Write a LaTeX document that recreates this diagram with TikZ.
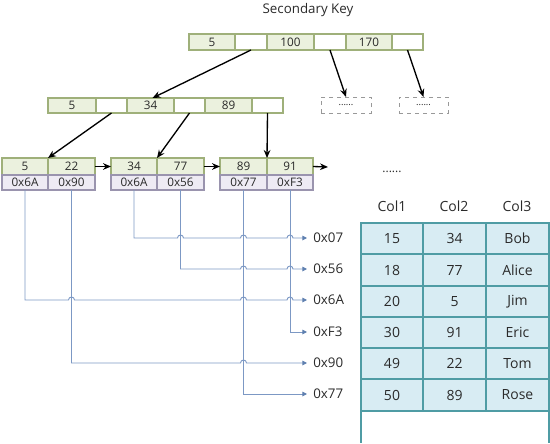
\documentclass[tikz,border=0pt]{standalone}
\usepackage{fontspec}
\setmainfont{Open Sans}
\usetikzlibrary{arrows.meta,calc}
\definecolor{gfill}{HTML}{EBF1DE}
\definecolor{gdraw}{HTML}{9FB07A}
\definecolor{pfill}{HTML}{EEEBF4}
\definecolor{pdraw}{HTML}{9A94AE}
\definecolor{tfill}{HTML}{D8ECF3}
\definecolor{tdraw}{HTML}{4F9CA4}
\definecolor{ptrc}{HTML}{7C98C4}
\definecolor{ptrtip}{HTML}{5E7FAF}
\definecolor{txt}{HTML}{2A2A2A}
\newcommand\mkcell[7]{%
  \node[#2, minimum width={(#4-#3)*0.75pt}, minimum height={(#6-#5)*0.75pt}] (#1) at ({(#3+#4)/2},{(#5+#6)/2}) {#7};}
\begin{document}
\begin{tikzpicture}[x=0.75pt,y=-0.75pt,
  every node/.style={text=txt},
  base/.style={rectangle, inner sep=0pt, outer sep=0pt, line width=0.9pt, font=\fontsize{8.8}{10}\selectfont},
  gcell/.style={base, draw=gdraw, fill=gfill},
  wcell/.style={base, draw=gdraw, fill=white},
  pcell/.style={base, draw=pdraw, fill=pfill},
  dbox/.style={base, draw=gray!80, dashed, line width=0.7pt, fill=white, font=\fontsize{7}{8}\selectfont},
  tcell/.style={rectangle, inner sep=0pt, outer sep=0pt, line width=0.9pt, draw=tdraw, fill=tfill, font=\fontsize{10.5}{12}\selectfont},
  hdr/.style={font=\fontsize{10.5}{12}\selectfont},
  plabel/.style={anchor=west, inner xsep=4.5pt, inner ysep=1pt, font=\fontsize{10}{12}\selectfont},
  blk/.style={draw=black, line width=1pt, -{Stealth[length=6pt,width=5pt]}},
  ptr/.style={draw=ptrc, line width=0.7pt, -{Triangle[length=3.5pt,width=3.5pt,color=ptrtip]}},
]
\useasboundingbox (0,0) rectangle (550,443);

% title
\node[font=\fontsize{10}{12}\selectfont] (title) at (308,10) {Secondary Key};

% top node
\mkcell{t1}{gcell}{189}{235}{34}{50}{5}
\mkcell{t2}{wcell}{235}{267}{34}{50}{}
\mkcell{t3}{gcell}{267}{314}{34}{50}{100}
\mkcell{t4}{wcell}{314}{346}{34}{50}{}
\mkcell{t5}{gcell}{346}{392}{34}{50}{170}
\mkcell{t6}{wcell}{392}{423}{34}{50}{}

% second level
\mkcell{s1}{gcell}{48}{96}{98}{113}{5}
\mkcell{s2}{wcell}{96}{127}{98}{113}{}
\mkcell{s3}{gcell}{127}{174}{98}{113}{34}
\mkcell{s4}{wcell}{174}{205}{98}{113}{}
\mkcell{s5}{gcell}{205}{252}{98}{113}{89}
\mkcell{s6}{wcell}{252}{283}{98}{113}{}
\mkcell{d1}{dbox}{321}{371}{97}{113}{......}
\mkcell{d2}{dbox}{399}{448}{97}{113}{......}

% leaves
\mkcell{l1a}{gcell}{2}{48}{158}{175}{5}
\mkcell{l1b}{gcell}{48}{95}{158}{175}{22}
\mkcell{l1c}{pcell}{2}{48}{175}{190}{0x6A}
\mkcell{l1d}{pcell}{48}{95}{175}{190}{0x90}
\mkcell{l2a}{gcell}{111}{157}{158}{175}{34}
\mkcell{l2b}{gcell}{157}{204}{158}{175}{77}
\mkcell{l2c}{pcell}{111}{157}{175}{190}{0x6A}
\mkcell{l2d}{pcell}{157}{204}{175}{190}{0x56}
\mkcell{l3a}{gcell}{220}{267}{158}{175}{89}
\mkcell{l3b}{gcell}{267}{313}{158}{175}{91}
\mkcell{l3c}{pcell}{220}{267}{175}{190}{0x77}
\mkcell{l3d}{pcell}{267}{313}{175}{190}{0xF3}
\coordinate (lend) at (328,167);

% tree arrows
\draw[blk] (t2.south) -- ([xshift=1.5pt]s3.north);
\draw[blk] (t4.south) -- (d1.north);
\draw[blk] (t6.south) -- (d2.north);
\draw[blk] (s2.south) -- (l1a.north east);
\draw[blk] (s4.south) -- (l2a.north east);
\draw[blk] (s6.south) -- (l3a.north east);
\draw[blk] (l1b.east) -- (l2a.west);
\draw[blk] (l2b.east) -- (l3a.west);
\draw[blk] (l3b.east) -- (lend);

% pointer labels
\node[plabel] (p07) at (307,238) {0x07};
\node[plabel] (p56) at (307,269) {0x56};
\node[plabel] (p6A) at (307,300) {0x6A};
\node[plabel] (pF3) at (307,332) {0xF3};
\node[plabel] (p90) at (307,363) {0x90};
\node[plabel] (p77) at (307,394) {0x77};

% pointer lines with hops
\draw[ptr] (l2c.south) |- ($(l2d.south|-p07)+(-3,0)$) arc[start angle=180,end angle=0,radius=2.25pt]
  -- ($(l3c.south|-p07)+(-3,0)$) arc[start angle=180,end angle=0,radius=2.25pt]
  -- ($(l3d.south|-p07)+(-3,0)$) arc[start angle=180,end angle=0,radius=2.25pt]
  -- (p07.west);
\draw[ptr] (l2d.south) |- ($(l3c.south|-p56)+(-3,0)$) arc[start angle=180,end angle=0,radius=2.25pt]
  -- ($(l3d.south|-p56)+(-3,0)$) arc[start angle=180,end angle=0,radius=2.25pt]
  -- (p56.west);
\draw[ptr] (l1c.south) |- ($(l1d.south|-p6A)+(-3,0)$) arc[start angle=180,end angle=0,radius=2.25pt]
  -- ($(l3c.south|-p6A)+(-3,0)$) arc[start angle=180,end angle=0,radius=2.25pt]
  -- ($(l3d.south|-p6A)+(-3,0)$) arc[start angle=180,end angle=0,radius=2.25pt]
  -- (p6A.west);
\draw[ptr] (l3d.south) |- (pF3.west);
\draw[ptr] (l1d.south) |- ($(l3c.south|-p90)+(-3,0)$) arc[start angle=180,end angle=0,radius=2.25pt]
  -- (p90.west);
\draw[ptr] (l3c.south) |- (p77.west);

% dots
\node[font=\fontsize{9}{10}\selectfont] (dots) at (392,172) {......};

% table header
\node[hdr] (h1) at (392,206) {Col1};
\node[hdr] (h2) at (454,206) {Col2};
\node[hdr] (h3) at (517,206) {Col3};

% table
\mkcell{r1a}{tcell}{361}{423}{223}{254}{15}
\mkcell{r1b}{tcell}{423}{486}{223}{254}{34}
\mkcell{r1c}{tcell}{486}{549}{223}{254}{Bob}
\mkcell{r2a}{tcell}{361}{423}{254}{286}{18}
\mkcell{r2b}{tcell}{423}{486}{254}{286}{77}
\mkcell{r2c}{tcell}{486}{549}{254}{286}{Alice}
\mkcell{r3a}{tcell}{361}{423}{286}{317}{20}
\mkcell{r3b}{tcell}{423}{486}{286}{317}{5}
\mkcell{r3c}{tcell}{486}{549}{286}{317}{Jim}
\mkcell{r4a}{tcell}{361}{423}{317}{348}{30}
\mkcell{r4b}{tcell}{423}{486}{317}{348}{91}
\mkcell{r4c}{tcell}{486}{549}{317}{348}{Eric}
\mkcell{r5a}{tcell}{361}{423}{348}{379}{49}
\mkcell{r5b}{tcell}{423}{486}{348}{379}{22}
\mkcell{r5c}{tcell}{486}{549}{348}{379}{Tom}
\mkcell{r6a}{tcell}{361}{423}{379}{411}{50}
\mkcell{r6b}{tcell}{423}{486}{379}{411}{89}
\mkcell{r6c}{tcell}{486}{549}{379}{411}{Rose}
\draw[draw=tdraw, line width=0.9pt] (r6a.south west) -- (r6a.south west |- 0,443) (r6c.south east) -- (r6c.south east |- 0,443);
\end{tikzpicture}
\end{document}
